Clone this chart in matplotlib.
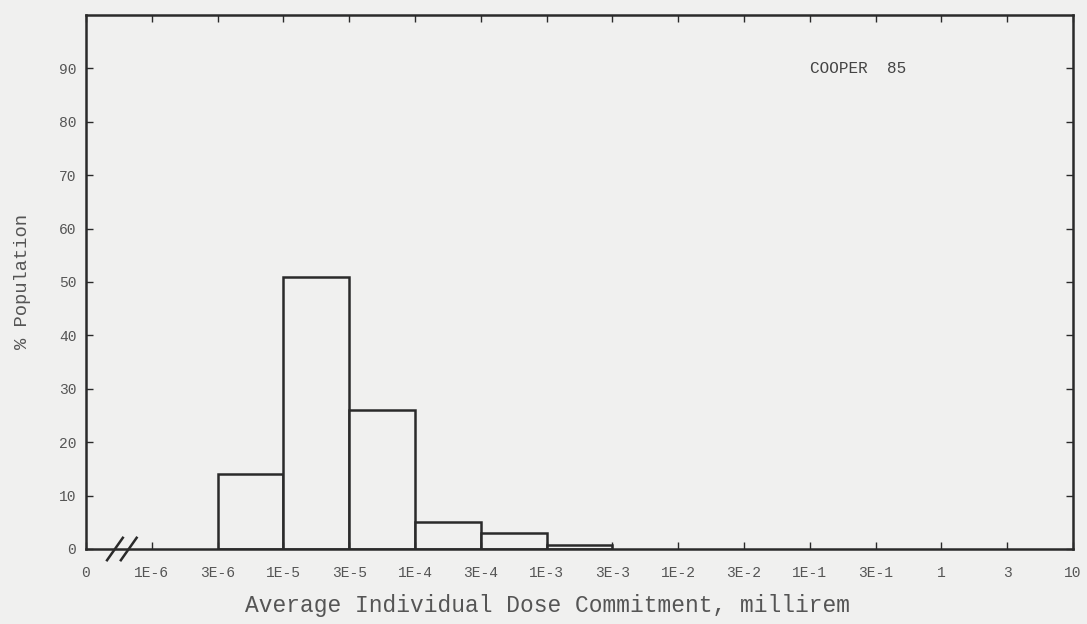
import matplotlib.pyplot as plt

# bin edges (category index) and % population
bin_left = [2, 3, 4, 5, 6, 7]
pct_pop = [14, 51, 26, 5, 3, 0.8]
tick_labels = ['0', '1E-6', '3E-6', '1E-5', '3E-5', '1E-4', '3E-4', '1E-3',
               '3E-3', '1E-2', '3E-2', '1E-1', '3E-1', '1', '3', '10']
yticks = [0, 10, 20, 30, 40, 50, 60, 70, 80, 90]

bg = '#f0f0ef'
ink = '#2a2a2a'
txt = '#555555'
mono = 'Liberation Mono'

fig = plt.figure(figsize=(10.87, 6.24), dpi=100, facecolor=bg)
ax = fig.add_axes([0.0791, 0.1202, 0.9080, 0.8558], facecolor=bg)

ax.bar(bin_left, pct_pop, width=1, align='edge', facecolor=bg,
       edgecolor=ink, linewidth=1.8)

ax.set_xlim(0, len(tick_labels) - 1)
ax.set_ylim(0, 100)
ax.set_xticks(range(len(tick_labels)))
ax.set_xticklabels(tick_labels)
ax.set_yticks(yticks)

for s in ax.spines.values():
    s.set_color(ink)
    s.set_linewidth(1.8)

ax.tick_params(direction='in', top=True, right=True, length=5, width=1,
               color=ink, labelsize=10.5, labelcolor=txt)
ax.tick_params(axis='x', pad=12)
ax.tick_params(axis='y', pad=7)
for lab in ax.get_xticklabels() + ax.get_yticklabels():
    lab.set_family(mono)

ax.set_xlabel('Average Individual Dose Commitment, millirem', family=mono,
              fontsize=16.5, color=txt, labelpad=12)
ax.xaxis.set_label_coords(0.468, -0.085)
ax.set_ylabel('% Population', family=mono, fontsize=13.5, color=txt, labelpad=20)

# axis break mark
for dx in [0, 0.21]:
    ax.plot([0.32 + dx, 0.56 + dx], [-2.1, 2.1], color=ink, linewidth=1.8,
            clip_on=False)

ax.text(11.0, 90, 'COOPER  85', family=mono, fontsize=11.5, color='#444444',
        ha='left', va='center')

plt.savefig('out.png', dpi=100, facecolor=bg)
